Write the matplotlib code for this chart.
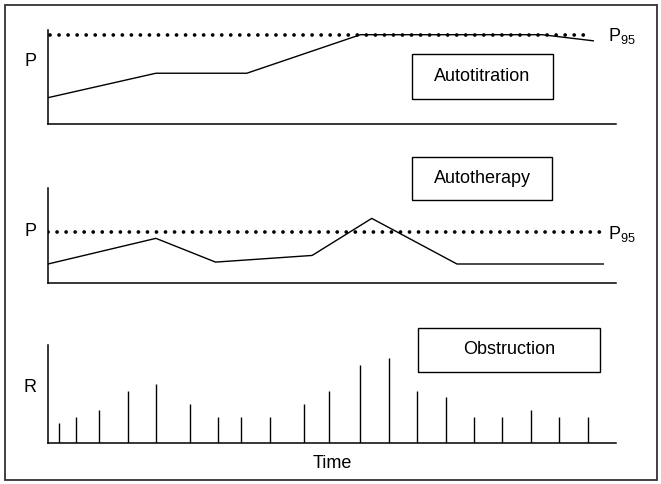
import matplotlib
matplotlib.use("Agg")
import matplotlib.pyplot as plt
from matplotlib.patches import Rectangle

plt.rcParams['font.family'] = ['Liberation Sans', 'DejaVu Sans']
plt.rcParams['mathtext.fontset'] = 'custom'
plt.rcParams['mathtext.rm'] = 'Liberation Sans'
plt.rcParams['mathtext.it'] = 'Liberation Sans'

# autotitration pressure
titr_t = [0, 3.8, 7.0, 11.0, 17.4, 19.2]
titr_p = [2.8, 5.4, 5.4, 9.5, 9.5, 8.85]
titr_p95 = 9.5

# autotherapy pressure
ther_t = [0, 3.8, 5.9, 9.3, 11.4, 14.4, 19.55]
ther_p = [2.0, 4.7, 2.2, 2.9, 6.8, 2.0, 2.0]
ther_p95 = 5.35

# obstruction events (resistance)
obs_t = [0.4, 1, 1.8, 2.8, 3.8, 5, 6, 6.8, 7.8, 9, 9.9, 11, 12, 13, 14, 15, 16, 17, 18, 19]
obs_r = [3.1, 4, 5, 8, 9, 6, 4, 4, 4, 6, 8, 12, 13, 8, 7, 4, 4, 5, 4, 4]

W, H = 661, 484
FS = 13
fig = plt.figure(figsize=(W / 100, H / 100), dpi=100)


def px_axes(x0, y_top, x1, y_bot):
    return fig.add_axes([x0 / W, 1 - y_bot / H, (x1 - x0) / W, (y_bot - y_top) / H])


def style(ax, ymax):
    ax.set_xlim(0, 20)
    ax.set_ylim(0, ymax)
    for s in ['top', 'right']:
        ax.spines[s].set_visible(False)
    for s in ['left', 'bottom']:
        ax.spines[s].set_linewidth(1.1)
    ax.set_xticks([])
    ax.set_yticks([])
    ax.patch.set_alpha(0)


def box(x0, y0, x1, y1, label):
    fig.add_artist(Rectangle((x0 / W, 1 - y1 / H), (x1 - x0) / W, (y1 - y0) / H,
                             transform=fig.transFigure, fill=False, lw=1.0, ec='black'))
    fig.text((x0 + x1) / 2 / W, 1 - (y0 + y1) / 2 / H, label, ha='center', va='center', fontsize=FS)


def p95_label(ax, level):
    ax.annotate(r'P$_{95}$', xy=(1, level), xycoords=('figure fraction', 'data'),
                xytext=(608 - W, -6.5), textcoords='offset pixels',
                ha='left', va='baseline', fontsize=FS)


dots = dict(color='black', lw=2.7, linestyle=(0, (0.01, 2.4)), dash_capstyle='round')

ax1 = px_axes(48, 30, 616, 124)
style(ax1, 10)
ax1.plot([0.07, 18.9], [titr_p95, titr_p95], **dots)
ax1.plot(titr_t, titr_p, color='black', lw=1.0)
p95_label(ax1, titr_p95)

ax2 = px_axes(48, 188, 616, 283)
style(ax2, 10)
ax2.plot([0, 19.45], [ther_p95, ther_p95], **dots)
ax2.plot(ther_t, ther_p, color='black', lw=1.0)
p95_label(ax2, ther_p95)

ax3 = px_axes(48, 345, 616, 443)
style(ax3, 15)
ax3.vlines(obs_t, 0, obs_r, color='black', lw=1.0)

# labels
fig.text(30 / W, 1 - 62 / H, 'P', ha='center', va='center', fontsize=FS)
fig.text(30 / W, 1 - 232 / H, 'P', ha='center', va='center', fontsize=FS)
fig.text(30 / W, 1 - 387 / H, 'R', ha='center', va='center', fontsize=FS)
fig.text(332 / W, 1 - 464 / H, 'Time', ha='center', va='center', fontsize=FS)

box(412, 54, 553, 99, 'Autotitration')
box(412, 157, 552, 200, 'Autotherapy')
box(418, 328, 600, 372, 'Obstruction')

# outer frame
fig.add_artist(Rectangle((5 / W, 1 - 480 / H), 652 / W, 475 / H,
                         transform=fig.transFigure, fill=False, lw=1.3, ec='#333333'))

fig.savefig('out.png', dpi=100)
